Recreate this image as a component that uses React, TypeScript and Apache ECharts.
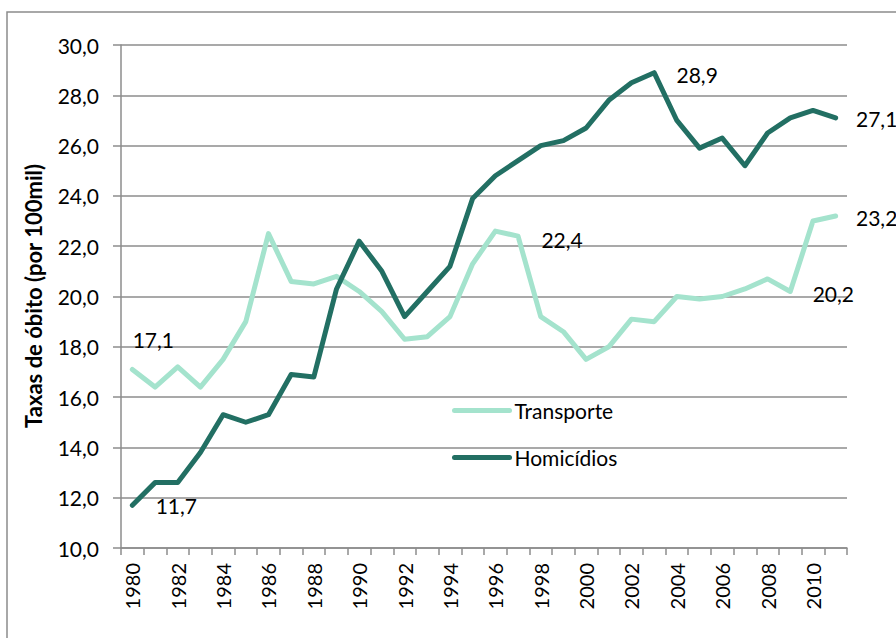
import React, { useEffect, useRef } from "react";
import * as echarts from "echarts";

const years = [
  "1980", "1981", "1982", "1983", "1984", "1985", "1986", "1987", "1988", "1989",
  "1990", "1991", "1992", "1993", "1994", "1995", "1996", "1997", "1998", "1999",
  "2000", "2001", "2002", "2003", "2004", "2005", "2006", "2007", "2008", "2009",
  "2010", "2011",
];

const transporte = [
  17.1, 16.4, 17.2, 16.4, 17.5, 19.0, 22.5, 20.6, 20.5, 20.8,
  20.2, 19.4, 18.3, 18.4, 19.2, 21.3, 22.6, 22.4, 19.2, 18.6,
  17.5, 18.0, 19.1, 19.0, 20.0, 19.9, 20.0, 20.3, 20.7, 20.2,
  23.0, 23.2,
];

const homicidios = [
  11.7, 12.6, 12.6, 13.8, 15.3, 15.0, 15.3, 16.9, 16.8, 20.3,
  22.2, 21.0, 19.2, 20.2, 21.2, 23.9, 24.8, 25.4, 26.0, 26.2,
  26.7, 27.8, 28.5, 28.9, 27.0, 25.9, 26.3, 25.2, 26.5, 27.1,
  27.4, 27.1,
];

const yTicks = { min: 10, max: 30, interval: 2 };

// indices of points that carry a value label
const transporteLabelled = [0, 17, 29, 31];
const homicidiosLabelled = [0, 23, 31];

const FONT = "Lato";
const fmt = (v: number) => v.toFixed(1).replace(".", ",");

export default function App() {
  const ref = useRef<HTMLDivElement>(null);

  useEffect(() => {
    if (!ref.current) return;
    const chart = echarts.init(ref.current, null, { renderer: "svg" });

    const labelOffsets: Record<string, [number, number]> = {
      "t0": [21, -30],
      "t17": [44, 3],
      "t29": [43, 2],
      "t31": [41, 1],
      "h0": [44, 0],
      "h23": [43, 2],
      "h31": [41, 1],
    };

    const build = (vals: number[], labelled: number[], key: string) =>
      vals.map((v, i) => {
        if (!labelled.includes(i)) return v;
        return {
          value: v,
          label: {
            show: true,
            position: "inside",
            offset: labelOffsets[key + i],
            formatter: (p: any) => fmt(p.value),
            color: "#000",
            fontFamily: FONT,
            fontSize: 21,
          },
        };
      });

    chart.setOption({
      animation: false,
      backgroundColor: "#fff",
      textStyle: { fontFamily: FONT },
      graphic: [
        {
          type: "rect",
          shape: { x: 7, y: 12, width: 1000, height: 1000 },
          style: { fill: "none", stroke: "#8c8c8c", lineWidth: 1.5 },
          silent: true,
        },
        {
          type: "text",
          x: 33,
          y: 296,
          rotation: Math.PI / 2,
          style: {
            text: "Taxas de óbito (por 100mil)",
            fontFamily: FONT,
            fontWeight: "bold",
            fontSize: 22,
            fill: "#000",
            align: "center",
            verticalAlign: "middle",
          },
        },
      ],
      grid: { left: 121, right: 49, top: 45, bottom: 90, containLabel: false },
      legend: {
        orient: "vertical",
        left: 447,
        top: 395,
        itemWidth: 55,
        itemHeight: 14,
        itemGap: 26,
        textStyle: { fontFamily: FONT, fontSize: 21, color: "#000" },
        itemStyle: { opacity: 0 },
        lineStyle: { width: 5 },
        data: ["Transporte", "Homicídios"],
      },
      xAxis: {
        type: "category",
        data: years,
        boundaryGap: true,
        axisLine: { lineStyle: { color: "#8c8c8c", width: 1.5 } },
        axisTick: { show: true, interval: 0, length: 7, lineStyle: { color: "#8c8c8c", width: 1.5 } },
        axisLabel: {
          interval: 1,
          rotate: 90,
          margin: 15,
          fontFamily: FONT,
          fontSize: 20,
          color: "#000",
        },
        splitLine: { show: false },
      },
      yAxis: {
        type: "value",
        min: yTicks.min,
        max: yTicks.max,
        interval: yTicks.interval,
        axisLine: { show: true, lineStyle: { color: "#8c8c8c", width: 1.5 } },
        axisTick: { show: true, length: 8, lineStyle: { color: "#8c8c8c", width: 1.5 } },
        axisLabel: {
          formatter: (v: number) => fmt(v),
          margin: 22,
          fontFamily: FONT,
          fontSize: 21,
          color: "#000",
        },
        splitLine: { show: true, lineStyle: { color: "#8c8c8c", width: 1.5 } },
      },
      series: [
        {
          name: "Transporte",
          type: "line",
          data: build(transporte, transporteLabelled, "t"),
          symbol: "circle",
          symbolSize: 1,
          showSymbol: true,
          itemStyle: { color: "#a4e3cd" },
          lineStyle: { color: "#a4e3cd", width: 5, cap: "round", join: "round" },
          z: 2,
        },
        {
          name: "Homicídios",
          type: "line",
          data: build(homicidios, homicidiosLabelled, "h"),
          symbol: "circle",
          symbolSize: 1,
          showSymbol: true,
          itemStyle: { color: "#226f63" },
          lineStyle: { color: "#226f63", width: 5, cap: "round", join: "round" },
          z: 3,
        },
      ],
    });

    return () => chart.dispose();
  }, []);

  return (
    <div
      ref={ref}
      style={{ position: "fixed", left: 0, top: 0, width: 896, height: 638 }}
    />
  );
}
